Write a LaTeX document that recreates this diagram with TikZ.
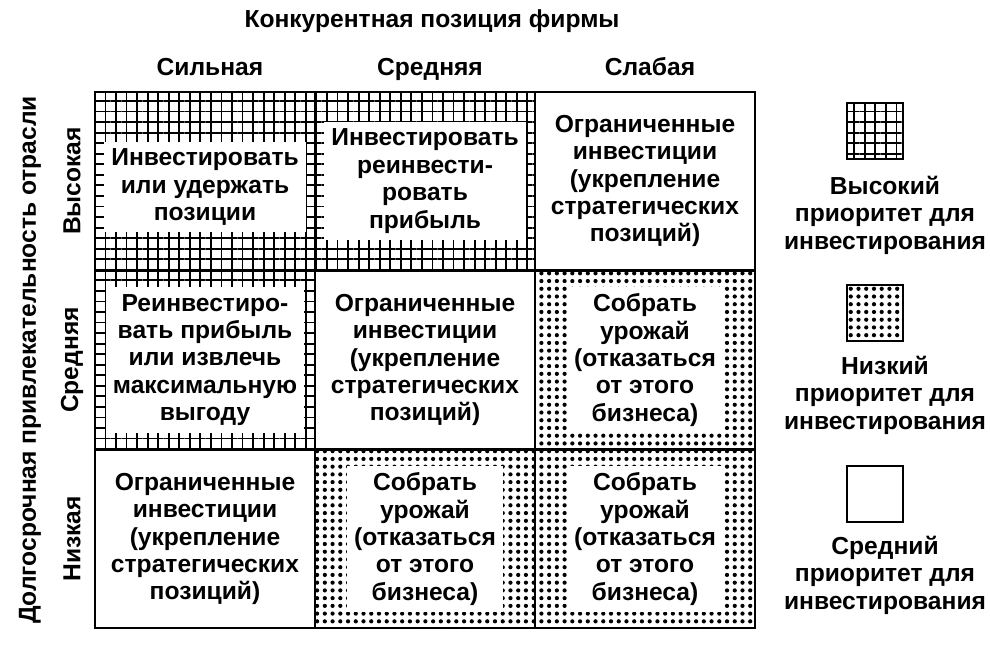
\documentclass[tikz,border=0pt]{standalone}
\usepackage{fontspec}
\setmainfont{Liberation Sans}
\usetikzlibrary{positioning,patterns.meta}
\tikzset{
  hi/.style={draw, line width=1.6pt, pattern={Hatch[angle=0,distance=7.5pt,line width=1.3pt]}},
  lo/.style={draw, line width=1.6pt, pattern={Dots[distance=5.5pt,radius=1.5pt]}},
  mid/.style={draw, line width=1.6pt, fill=white},
  txt/.style={fill=white, align=center, inner sep=5pt, font=\bfseries\fontsize{17.5}{19.5}\selectfont},
  lab/.style={font=\bfseries\fontsize{17.5}{19.5}\selectfont}
}
\newcommand{\cellbox}[3]{\path[#1] (#2-110,#3-89) rectangle (#2+110,#3+89);}
\begin{document}
\begin{tikzpicture}[x=0.025cm,y=-0.025cm]
  \useasboundingbox (0,0) rectangle (990,660);
  % cells
  \cellbox{hi}{205}{181}
  \cellbox{hi}{425}{181}
  \cellbox{mid}{645}{181}
  \cellbox{hi}{205}{360}
  \cellbox{mid}{425}{360}
  \cellbox{lo}{645}{360}
  \cellbox{mid}{205}{539}
  \cellbox{lo}{425}{539}
  \cellbox{lo}{645}{539}
  \draw[line width=2pt] (95,92) rectangle (755,628);
  % texts
  \node[txt] (c11) at (205,187) {Инвестировать\\или удержать\\позиции};
  \node[txt] (c12) at (425,181) {Инвестировать\\реинвести-\\ровать\\прибыль};
  \node[txt] (c13) at (645,181) {Ограниченные\\инвестиции\\(укрепление\\стратегических\\позиций)};
  \node[txt] (c21) at (205,360) {Реинвестиро-\\вать прибыль\\или извлечь\\максимальную\\выгоду};
  \node[txt] (c22) at (425,360) {Ограниченные\\инвестиции\\(укрепление\\стратегических\\позиций)};
  \node[txt] (c23) at (645,360) {Собрать\\урожай\\(отказаться\\от этого\\бизнеса)};
  \node[txt] (c31) at (205,539) {Ограниченные\\инвестиции\\(укрепление\\стратегических\\позиций)};
  \node[txt] (c32) at (425,539) {Собрать\\урожай\\(отказаться\\от этого\\бизнеса)};
  \node[txt] (c33) at (645,539) {Собрать\\урожай\\(отказаться\\от этого\\бизнеса)};
  % axes
  \node[lab, anchor=base] (top) at (432,27) {Конкурентная позиция фирмы};
  \node[lab, anchor=base] (s1) at (210,75) {Сильная};
  \node[lab, anchor=base] (s2) at (430,75) {Средняя};
  \node[lab, anchor=base] (s3) at (650,75) {Слабая};
  \node[lab, rotate=90] (side) at (30,360) {Долгосрочная привлекательность отрасли};
  \node[lab, rotate=90] (r1) at (72,181) {Высокая};
  \node[lab, rotate=90] (r2) at (72,360) {Средняя};
  \node[lab, rotate=90] (r3) at (72,539) {Низкая};
  % legend
  \path[hi] (847,103) rectangle (903,159);
  \node[txt, fill=none] (l1) at (885,215) {Высокий\\приоритет для\\инвестирования};
  \path[lo] (847,285) rectangle (903,341);
  \node[txt, fill=none] (l2) at (885,395) {Низкий\\приоритет для\\инвестирования};
  \path[mid] (847,466) rectangle (903,522);
  \node[txt, fill=none] (l3) at (885,575) {Средний\\приоритет для\\инвестирования};
\end{tikzpicture}
\end{document}
